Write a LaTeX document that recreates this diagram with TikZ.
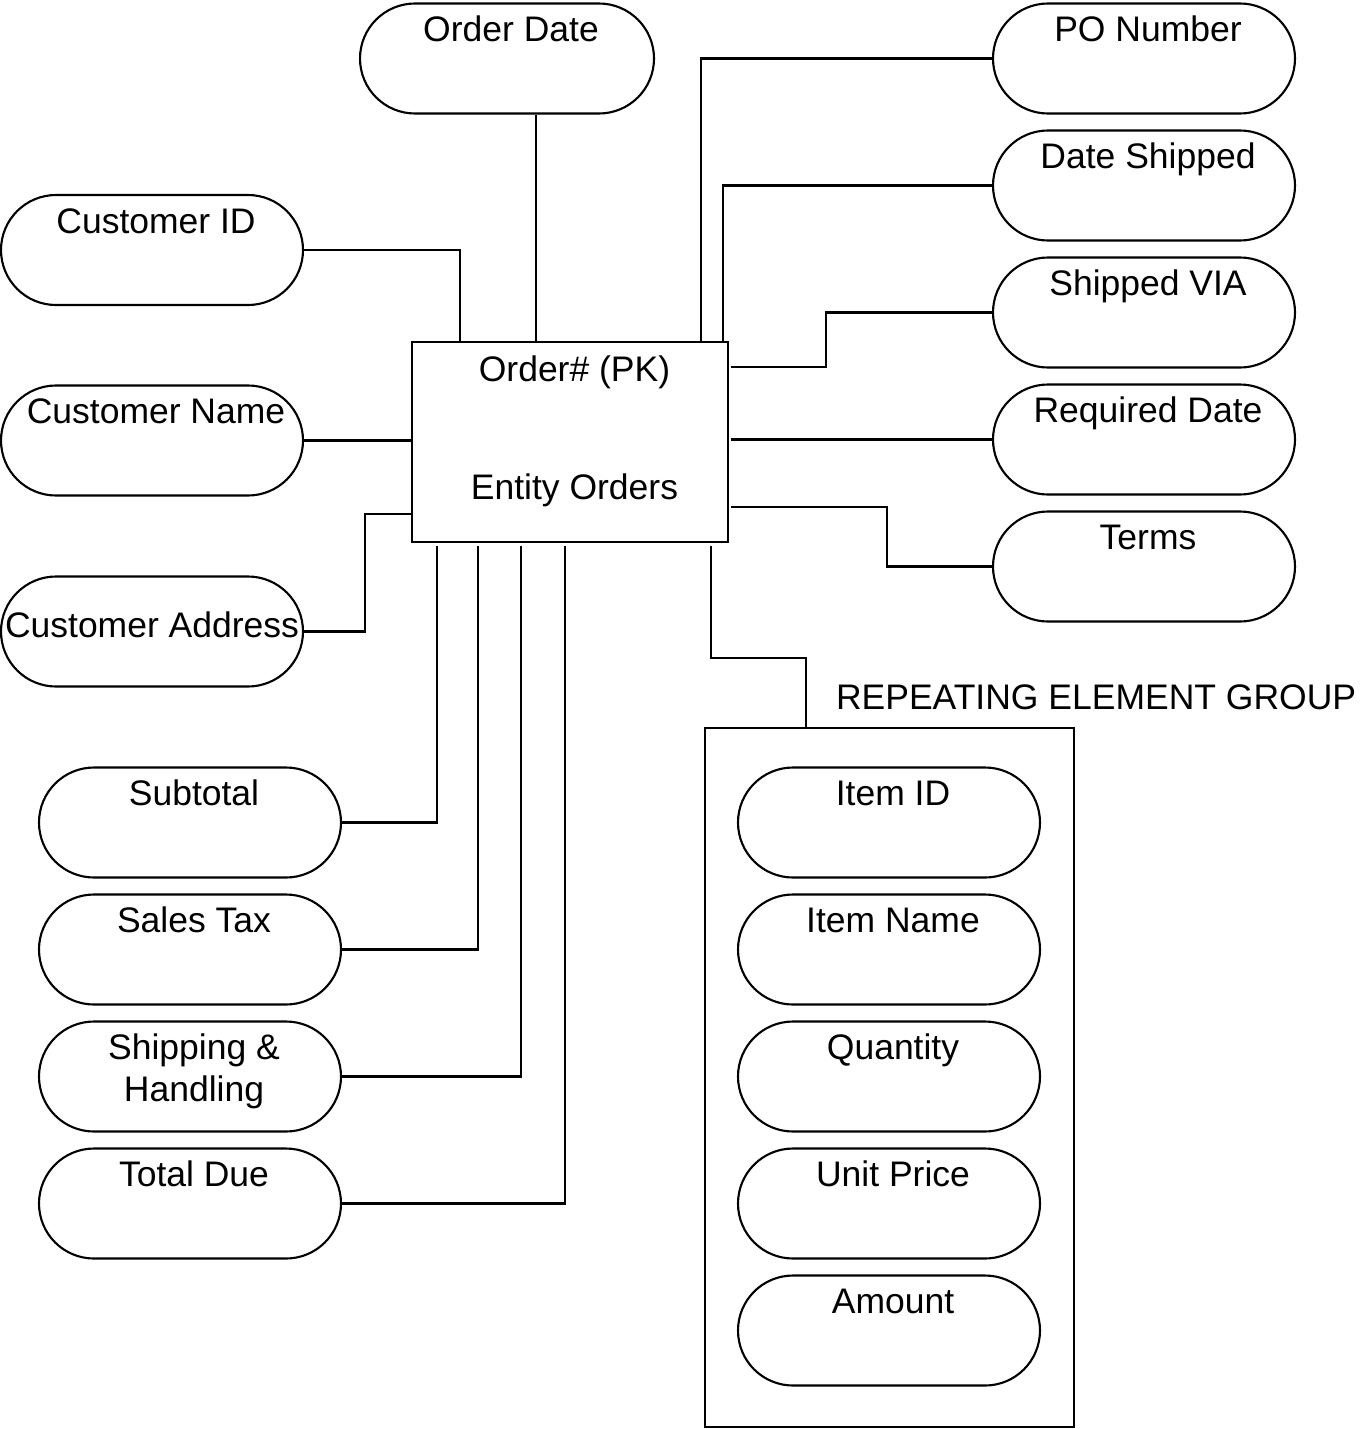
\documentclass[tikz,border=0pt]{standalone}
\usepackage{fontspec}
\setmainfont{Liberation Sans}
\usetikzlibrary{positioning}

\begin{document}
\begin{tikzpicture}[font=\fontsize{10.1}{12}\selectfont, line width=0.6pt,
    attrbox/.style={draw, rounded corners=5.5mm, minimum width=3.02cm, minimum height=1.1cm,
      inner sep=0.5pt, text height=0.25cm},
    attr/.style={attrbox, text depth=0.59cm, execute at begin node={\kern0.8mm}},
    attrmid/.style={attrbox, text depth=0.13cm},
    entity/.style={draw, minimum width=3.16cm, minimum height=2cm, inner sep=0.5pt,
      text height=0.25cm, text depth=1.46cm, execute at begin node={\kern0.9mm}},
    group/.style={draw, minimum width=3.69cm, minimum height=6.99cm}]
    \useasboundingbox (0,0) rectangle (13.63,-14.29);
    % entity and attributes
    \node[entity] (orders) at (5.70,-4.42)
      {\begin{tabular}[t]{@{}c@{}}Order\# (PK)\\[21.6pt]Entity Orders\end{tabular}};
    \node[attr, minimum width=2.94cm] (odate) at (5.07,-0.585) {Order Date};
    \node[attr] (cid) at (1.52,-2.50) {Customer ID};
    \node[attr] (cname) at (1.52,-4.405) {Customer Name};
    \node[attrmid] (caddr) at (1.52,-6.315) {Customer Address};
    \foreach \n/\t [count=\i] in {subtotal/Subtotal, salestax/Sales Tax,
      shipping/{\begin{tabular}[t]{@{}c@{}}Shipping \&\\Handling\end{tabular}}, totaldue/Total Due}
    \node[attr] (\n) at (1.90,{-8.225-1.27*(\i-1)}) {\t};
    \foreach \n/\t [count=\i] in {ponum/PO Number, dshipped/Date Shipped, shipvia/Shipped VIA,
      reqdate/Required Date, terms/Terms}
    \node[attr] (\n) at (11.44,{-0.585-1.27*(\i-1)}) {\t};
    % repeating group
    \node[group] (items) at (8.895,-10.775) {};
    \node[anchor=base west, inner sep=0pt] (itemslabel) at (8.35,-7.095) {REPEATING ELEMENT GROUP};
    \foreach \n/\t [count=\i] in {itemid/Item ID, itemname/Item Name, qty/Quantity,
      uprice/Unit Price, amount/Amount}
    \node[attr] (\n) at (8.89,{-8.225-1.27*(\i-1)}) {\t};
    % connectors
    \draw ([xshift=2.9mm]odate.south) -- ([xshift=2.9mm]odate.south |- orders.north);
    \draw (cid.east) -| ([xshift=4.9mm]orders.north west);
    \draw (cname.east) -- (cname.east -| orders.west);
    \draw (caddr.east) -- ++(0.61,0) |- ([yshift=-7.2mm]orders.west);
    \draw (subtotal.east) -| ([xshift=2.6mm,yshift=-0.3mm]orders.south west);
    \draw (salestax.east) -| ([xshift=6.7mm,yshift=-0.3mm]orders.south west);
    \draw (shipping.east) -| ([xshift=11mm,yshift=-0.3mm]orders.south west);
    \draw (totaldue.east) -| ([xshift=15.4mm,yshift=-0.3mm]orders.south west);
    \draw (ponum.west) -| ([xshift=-2.8mm]orders.north east);
    \draw (dshipped.west) -| ([xshift=-0.6mm]orders.north east);
    \draw (shipvia.west) -- ++(-1.66,0) |- ([xshift=0.2mm,yshift=7.5mm]orders.east);
    \draw (reqdate.west) -- ([xshift=0.2mm]reqdate.west -| orders.east);
    \draw (terms.west) -- ++(-1.05,0) |- ([xshift=0.2mm,yshift=-6.5mm]orders.east);
    \draw ([xshift=-1.8mm,yshift=-0.3mm]orders.south east) -- ++(0,-1.12)
      -| ([xshift=1.02cm]items.north west);
  \end{tikzpicture}
\end{document}
